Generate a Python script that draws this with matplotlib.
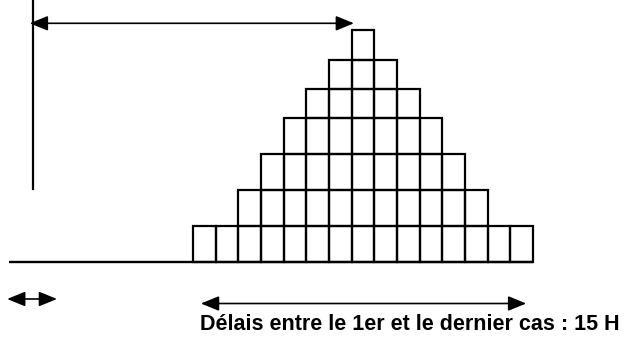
import numpy as np
import matplotlib
matplotlib.use("Agg")
import matplotlib.pyplot as plt

# Epidemic curve: number of cases per hour (15 hours, 45 cases)
hours = list(range(15))
cases = [1, 1, 2, 3, 4, 5, 6, 7, 6, 5, 4, 3, 2, 1, 1]
caption = "Délais entre le 1er et le dernier cas : 15 H"

# upper rows of the original drawing are a bit squashed
K = 29.3 / 36


def fwd(y):
    y = np.asarray(y, dtype=float)
    return np.where(y <= 4, y, 4 + (y - 4) * K)


def inv(s):
    s = np.asarray(s, dtype=float)
    return np.where(s <= 4, s, 4 + (s - 4) / K)


fig = plt.figure(figsize=(6.31, 3.38), dpi=100)
ax = fig.add_axes([0, 0, 1, 1])
ax.set_yscale('function', functions=(fwd, inv))

px = 340 / 15  # pixels per hour
ax.set_xlim(-193 / px, (631 - 193) / px)
ax.set_ylim(-75.7 / 36, float(inv(262.3 / 36)))
ax.axis('off')

# one square per case
for h, n in zip(hours, cases):
    for j in range(n):
        ax.bar(h, 1, bottom=j, width=1, align='edge', fill=False,
               edgecolor='black', linewidth=1.6)

# time axis
ax.plot([-8.1, hours[-1] + 1], [0, 0], color='black', lw=1.7, solid_capstyle='butt')

tr = ax.get_xaxis_transform()  # x in data, y in axes fraction
# exposure marker
ax.plot([-7.04, -7.04], [1 - 189 / 338, 1.0], color='black', lw=1.6, transform=tr)

arrow = dict(arrowstyle='<|-|>,head_length=1.1,head_width=0.45', color='black',
             lw=1.2, shrinkA=0, shrinkB=0, mutation_scale=10)
# incubation: exposure to peak
ax.annotate('', xy=(7.1, 1 - 23.3 / 338), xytext=(-7.2, 1 - 23.3 / 338),
            xycoords=tr, textcoords=tr, arrowprops=arrow)
# short arrow bottom left
ax.annotate('', xy=(-6.0, 1 - 299 / 338), xytext=(-8.2, 1 - 299 / 338),
            xycoords=tr, textcoords=tr, arrowprops=arrow)
# first to last case
ax.annotate('', xy=(14.7, 1 - 303.5 / 338), xytext=(0.35, 1 - 303.5 / 338),
            xycoords=tr, textcoords=tr, arrowprops=arrow)

ax.text(0.3, 1 - 325 / 338, caption, transform=tr, ha='left', va='center',
        fontsize=15.5, fontweight='bold', family='Liberation Sans')

fig.savefig('out.png', dpi=100)
